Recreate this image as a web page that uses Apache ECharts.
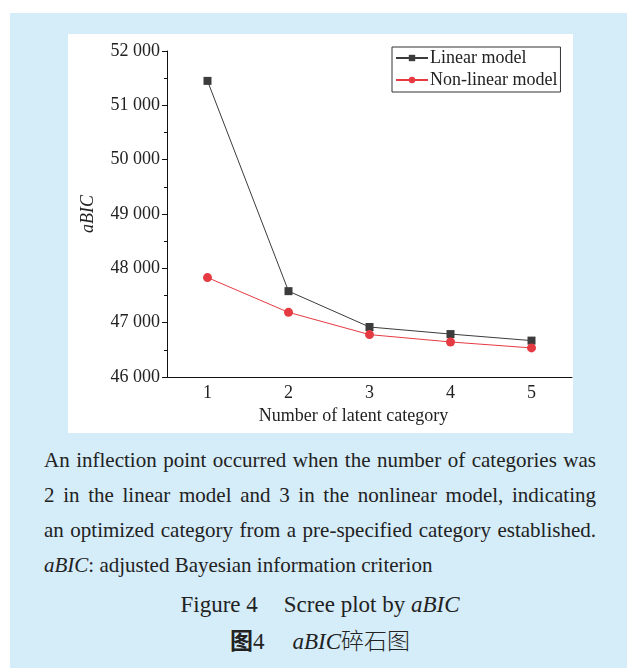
<!DOCTYPE html>
<html>
<head>
<meta charset="utf-8">
<script src="https://cdn.jsdelivr.net/npm/echarts@6/dist/echarts.min.js"></script>
<style>
  html, body { margin: 0; padding: 0; background: #ffffff; }
  #panel {
    position: absolute; left: 10px; top: 13px; width: 617px; height: 655px;
    background: #d5ecf9;
  }
  #chart {
    position: absolute; left: 68px; top: 34px; width: 505px; height: 399px;
    background: #ffffff;
  }
  .cap {
    position: absolute; left: 44px; width: 552px;
    font-family: "Liberation Serif", "DejaVu Serif", serif;
    font-size: 21px; line-height: 35px; color: #222;
  }
  .cap div { font-family: "Liberation Serif", serif; }
  .cap div.j { text-align: justify; text-align-last: justify; }
  .title {
    position: absolute; left: 0; width: 640px; text-align: center;
    font-family: "Liberation Serif", serif; font-size: 23px; color: #222;
    line-height: 35px;
  }
  .cjk { font-family: "Noto Sans CJK SC", sans-serif; }
  .gap { display: inline-block; }
</style>
</head>
<body>
<div id="panel"></div>
<div id="chart"></div>
<div class="cap" style="top:443px;">
  <div class="j">An inflection point occurred when the number of categories was</div>
  <div class="j">2 in the linear model and 3 in the nonlinear model, indicating</div>
  <div class="j">an optimized category from a pre-specified category established.</div>
  <div><i>aBIC</i>: adjusted Bayesian information criterion</div>
</div>
<div class="title" style="top:587px;">Figure 4<span class="gap" style="width:26px"></span>Scree plot by <i>aBIC</i></div>
<div class="title" style="top:622px;"><span class="cjk" style="font-weight:700">图</span>4<span class="gap" style="width:28px"></span><i>aBIC</i><span class="cjk" style="font-weight:300">碎石图</span></div>
<script>
// Number of latent categories and aBIC values per model
const categories = ['1', '2', '3', '4', '5'];
const linearModel = [51450, 47580, 46920, 46790, 46670];
const nonLinearModel = [47830, 47190, 46780, 46645, 46535];
const seriesNames = ['Linear model', 'Non-linear model'];

const serif = '"Liberation Serif", "Times New Roman", serif';
const ink = '#222222';

const chart = echarts.init(document.getElementById('chart'), null, { renderer: 'canvas' });

function thousands(v) {
  return String(v).replace(/\B(?=(\d{3})+(?!\d))/g, ' ');
}

chart.setOption({
  backgroundColor: '#ffffff',
  animation: false,
  grid: { left: 99, right: 1, top: 17, bottom: 56 },
  legend: {
    data: seriesNames,
    orient: 'vertical',
    left: 324,
    top: 13,
    width: 168,
    padding: [1, 3, 2, 3],
    itemGap: 2,
    itemWidth: 32,
    itemHeight: 8,
    borderColor: '#333',
    borderWidth: 1,
    backgroundColor: '#fff',
    textStyle: { fontFamily: serif, fontSize: 18, color: ink, lineHeight: 20, padding: [0, 0, 0, -3] }
  },
  xAxis: {
    type: 'category',
    data: categories,
    boundaryGap: true,
    name: 'Number of latent category',
    nameLocation: 'middle',
    nameGap: 30,
    nameTextStyle: { fontFamily: serif, fontSize: 18, color: ink, padding: [0, 32, 0, 0] },
    axisLine: { lineStyle: { color: '#111', width: 1 } },
    axisTick: { alignWithLabel: true, inside: false, length: 5, lineStyle: { color: '#111' } },
    axisLabel: { fontFamily: serif, fontSize: 18, color: ink, margin: 7 },
    splitLine: { show: false }
  },
  yAxis: {
    type: 'value',
    min: 46000,
    max: 52000,
    interval: 1000,
    name: 'aBIC',
    nameLocation: 'middle',
    nameGap: 70,
    nameTextStyle: { fontFamily: serif, fontSize: 18, fontStyle: 'italic', color: ink },
    axisLine: { show: true, lineStyle: { color: '#111', width: 1 } },
    axisTick: { show: true, inside: false, length: 5, lineStyle: { color: '#111' } },
    minorTick: { show: true, splitNumber: 2, length: 3, lineStyle: { color: '#111' } },
    axisLabel: { fontFamily: serif, fontSize: 18, color: ink, margin: 7, formatter: thousands },
    splitLine: { show: false }
  },
  series: [
    {
      name: seriesNames[0],
      type: 'line',
      data: linearModel,
      symbol: 'rect',
      symbolSize: 8,
      itemStyle: { color: '#3c3c3c' },
      lineStyle: { color: '#3c3c3c', width: 1 }
    },
    {
      name: seriesNames[1],
      type: 'line',
      data: nonLinearModel,
      symbol: 'circle',
      symbolSize: 9,
      itemStyle: { color: '#e63a42' },
      lineStyle: { color: '#e63a42', width: 1 }
    }
  ]
});
</script>
</body>
</html>
